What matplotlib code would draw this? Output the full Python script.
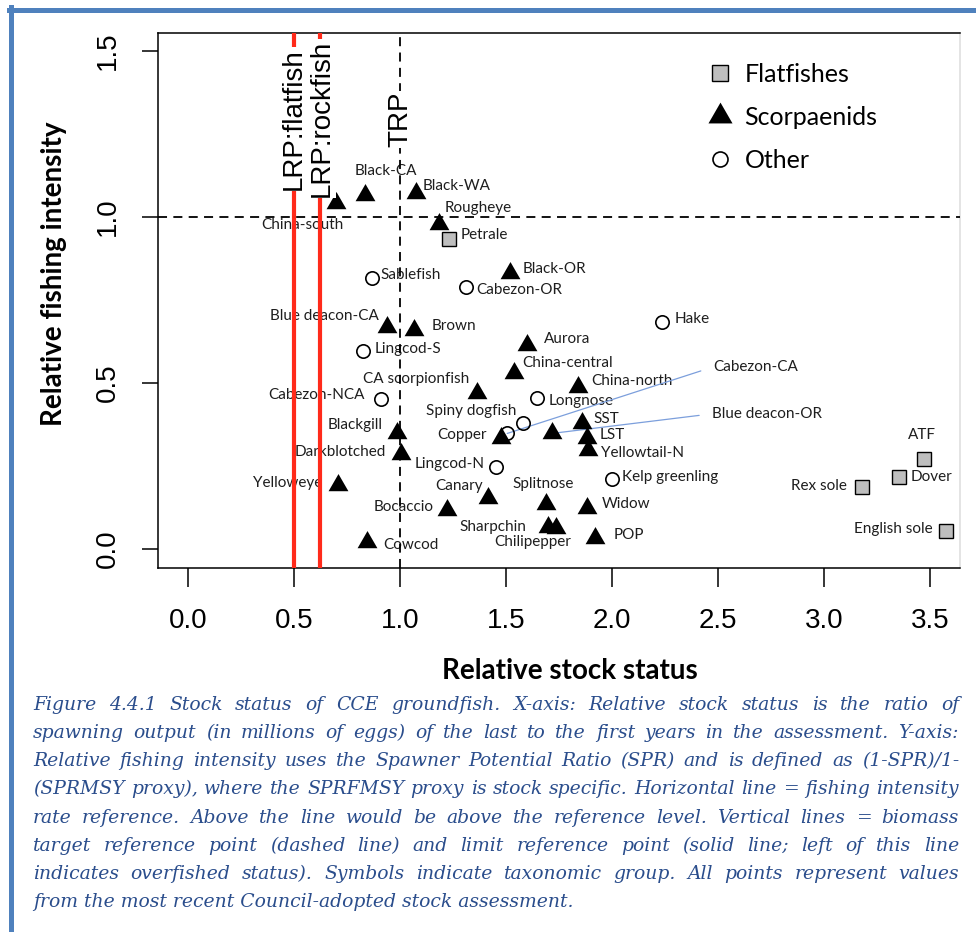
import matplotlib.pyplot as plt
import numpy as np
from matplotlib.lines import Line2D

plt.rcParams['font.family'] = 'Liberation Sans'

# relative stock status (x) and relative fishing intensity (y) by taxonomic group
flat_names = ['Petrale', 'ATF', 'Dover', 'Rex sole', 'English sole']
flat_x = [1.233, 3.473, 3.355, 3.181, 3.574]
flat_y = [0.933, 0.271, 0.218, 0.186, 0.054]

scorp_names = ['China-south', 'Black-CA', 'Black-WA', 'Rougheye', 'Black-OR',
               'Blue deacon-CA', 'Brown', 'Aurora', 'China-central', 'China-north',
               'CA scorpionfish', 'Copper', 'Blue deacon-OR', 'SST', 'LST',
               'Yellowtail-N', 'Blackgill', 'Darkblotched', 'Yelloweye', 'Canary',
               'Bocaccio', 'Splitnose', 'Widow', 'Sharpchin', 'Chilipepper',
               'Cowcod', 'POP']
scorp_x = [0.700, 0.835, 1.074, 1.186, 1.519, 0.937, 1.067, 1.598, 1.539, 1.841,
           1.362, 1.475, 1.716, 1.857, 1.881, 1.888, 0.984, 1.005, 0.709, 1.414,
           1.220, 1.687, 1.881, 1.697, 1.736, 0.846, 1.920]
scorp_y = [1.042, 1.066, 1.071, 0.979, 0.830, 0.670, 0.660, 0.614, 0.531, 0.487,
           0.469, 0.335, 0.348, 0.380, 0.333, 0.298, 0.350, 0.286, 0.193, 0.153,
           0.117, 0.136, 0.123, 0.067, 0.062, 0.022, 0.032]

other_names = ['Sablefish', 'Cabezon-OR', 'Lingcod-S', 'Hake', 'Cabezon-NCA',
               'Longnose', 'Spiny dogfish', 'Cabezon-CA', 'Lingcod-N', 'Kelp greenling']
other_x = [0.866, 1.311, 0.824, 2.234, 0.909, 1.648, 1.582, 1.506, 1.453, 1.999]
other_y = [0.817, 0.788, 0.597, 0.685, 0.452, 0.456, 0.380, 0.348, 0.248, 0.211]

# reference points
lrp_flat = 0.5
lrp_rock = 0.625
trp = 1.0
f_ref = 1.0

xticks = [0.0, 0.5, 1.0, 1.5, 2.0, 2.5, 3.0, 3.5]
xtick_labels = ['0.0', '0.5', '1.0', '1.5', '2.0', '2.5', '3.0', '3.5']
yticks = [0.0, 0.5, 1.0, 1.5]
ytick_labels = ['0.0', '0.5', '1.0', '1.5']

# label placement: (dx px, dy px down, alignment)
label_pos = {
    'Black-CA': (21, -24, 'center'), 'Black-WA': (7, -7, 'left'),
    'Rougheye': (5, -16, 'left'), 'Petrale': (11, -4, 'left'),
    'China-south': (-34, 22, 'center'), 'Sablefish': (9, -3, 'left'),
    'Cabezon-OR': (10, 3, 'left'), 'Black-OR': (13, -4, 'left'),
    'Blue deacon-CA': (-8, -11, 'right'), 'Brown': (17, -4, 'left'),
    'Lingcod-S': (12, -2, 'left'), 'Aurora': (17, -6, 'left'),
    'China-central': (8, -10, 'left'), 'Hake': (13, -3, 'left'),
    'China-north': (13, -6, 'left'), 'Longnose': (11, 3, 'left'),
    'SST': (12, -4, 'left'), 'LST': (13, -3, 'left'),
    'Yellowtail-N': (13, 3, 'left'), 'Kelp greenling': (10, -2, 'left'),
    'Splitnose': (-2, -20, 'center'), 'Widow': (15, -4, 'left'),
    'POP': (19, -3, 'left'), 'Chilipepper': (-23, 14, 'center'),
    'Sharpchin': (-21, 0, 'right'), 'ATF': (-2, -24, 'center'),
    'Dover': (11, 0, 'left'), 'Rex sole': (-15, -1, 'right'),
    'English sole': (-13, -2, 'right'), 'Cabezon-NCA': (-16, -4, 'right'),
    'CA scorpionfish': (-7, -14, 'right'), 'Spiny dogfish': (-7, -12, 'right'),
    'Copper': (-14, -3, 'right'), 'Blackgill': (-14, -8, 'right'),
    'Darkblotched': (-15, -2, 'right'), 'Lingcod-N': (-11, -3, 'right'),
    'Yelloweye': (-16, -2, 'right'), 'Canary': (-5, -12, 'right'),
    'Bocaccio': (-13, -3, 'right'), 'Cowcod': (16, 3, 'left'),
}
# labels moved off to the right with leader lines
leader_pos = {'Cabezon-CA': (2.476, 0.548), 'Blue deacon-OR': (2.470, 0.407)}

caption_lines = [
    'Figure 4.4.1 Stock status of CCE groundfish. X-axis: Relative stock status is the ratio of',
    'spawning output (in millions of eggs) of the last to the first years in the assessment. Y-axis:',
    'Relative fishing intensity uses the Spawner Potential Ratio (SPR) and is defined as (1-SPR)/1-',
    '(SPRMSY proxy), where the SPRFMSY proxy is stock specific. Horizontal line = fishing intensity',
    'rate reference. Above the line would be above the reference level. Vertical lines = biomass',
    'target reference point (dashed line) and limit reference point (solid line; left of this line',
    'indicates overfished status). Symbols indicate taxonomic group. All points represent values',
    'from the most recent Council-adopted stock assessment.',
]

W, H = 976, 932
fig = plt.figure(figsize=(W / 100, H / 100), dpi=100)
ax = fig.add_axes([158 / W, 1 - 568 / H, 802 / W, 535 / H])
ax.set_xlim(-0.1415, 3.642)
ax.set_ylim(-0.0572, 1.554)

tri = [(-1, -0.577), (1, -0.577), (0, 1.155)]

ax.plot(flat_x, flat_y, ls='none', marker='s', ms=9.4, mfc='#bebebe', mec='black', mew=1.0, zorder=4)
ax.plot(scorp_x, scorp_y, ls='none', marker=tri, ms=16.5, mfc='black', mec='black', mew=0, zorder=4)
ax.plot(other_x, other_y, ls='none', marker='o', ms=9.6, mfc='none', mec='black', mew=1.2, zorder=4)

lab_font = dict(family='Lato', fontsize=11, color='#1e1e1e', va='center', zorder=3)
names = flat_names + scorp_names + other_names
xs = flat_x + scorp_x + other_x
ys = flat_y + scorp_y + other_y
for n, x, y in zip(names, xs, ys):
    if n in label_pos:
        dx, dy, ha = label_pos[n]
        ax.annotate(n, (x, y), xytext=(dx * 0.72, -dy * 0.72), textcoords='offset points',
                    ha=ha, **lab_font)
    elif n in leader_pos:
        ax.annotate(n, (x, y), xytext=leader_pos[n], textcoords='data', ha='left',
                    arrowprops=dict(arrowstyle='-', color='#7c9fdc', lw=0.9,
                                    relpos=(0, 0.5), shrinkA=7, shrinkB=0),
                    **lab_font)

# reference lines
dash = (0, (5, 3.5))
ax.axhline(f_ref, color='black', lw=1.3, ls=dash, zorder=5)
ax.axvline(trp, color='black', lw=1.3, ls=dash, zorder=5)
ax.axvline(lrp_flat, color='#ff2a1a', lw=3, zorder=6)
ax.axvline(lrp_rock, color='#ff2a1a', lw=3, zorder=6)

ref_font = dict(family='Liberation Sans', fontsize=20, rotation=90, ha='center', va='bottom',
                zorder=7, bbox=dict(facecolor='white', edgecolor='none', pad=0.5))
ax.text(lrp_flat, 1.081, 'LRP:flatfish', **ref_font)
ax.text(lrp_rock + 0.008, 1.06, 'LRP:rockfish', **ref_font)
ax.text(trp, 1.211, 'TRP', **ref_font)

# legend
handles = [
    Line2D([], [], ls='none', marker='s', ms=11.5, mfc='#bebebe', mec='black', mew=1.0),
    Line2D([], [], ls='none', marker=tri, ms=20, mfc='black', mew=0),
    Line2D([], [], ls='none', marker='o', ms=10.8, mfc='none', mec='black', mew=1.2),
]
leg = ax.legend(handles, ['Flatfishes', 'Scorpaenids', 'Other'], loc='upper left',
                bbox_to_anchor=(0.669, 0.968), frameon=False, borderpad=0,
                handlelength=1.0, handletextpad=0.5, labelspacing=0.8,
                prop=dict(family='Lato', size=18))

ax.set_xticks(xticks, xtick_labels)
ax.set_yticks(yticks)
ax.set_yticklabels(ytick_labels, rotation=90, va='center')
ax.tick_params(axis='x', direction='out', length=13.7, width=1.1, pad=15, labelsize=20)
ax.tick_params(axis='y', direction='out', length=11.5, width=1.1, pad=15, labelsize=20)
for s in ax.spines.values():
    s.set_linewidth(1.1)
ax.spines['right'].set_color('#dcdcdc')

ax.set_xlabel('Relative stock status', family='Lato', fontsize=20, fontweight='bold')
ax.xaxis.set_label_coords(0.514, -0.168)
ax.set_ylabel('Relative fishing intensity', family='Lato', fontsize=20, fontweight='bold')
ax.yaxis.set_label_coords(-0.113, 0.55)

# page border
border = '#4f81bd'
fig.add_artist(Line2D([10.5 / W, 10.5 / W], [0, 1 - 7 / H], color=border, lw=3.6,
                      transform=fig.transFigure))
fig.add_artist(Line2D([8.7 / W, 1], [1 - 9.5 / H, 1 - 9.5 / H], color=border, lw=3.6,
                      transform=fig.transFigure))

# justified caption
renderer = fig.canvas.get_renderer()
cap_font = dict(family='DejaVu Serif', style='italic', color='#2a4d8c', va='baseline')
cap_left, cap_right = 33, 959
size = 13.5
probe = [fig.text(0, 0, ln, fontsize=size, **cap_font) for ln in caption_lines]
widest = max(t.get_window_extent(renderer).width for t in probe)
for t in probe:
    t.remove()
if widest > (cap_right - cap_left) * 0.995:
    size *= (cap_right - cap_left) * 0.995 / widest
for i, ln in enumerate(caption_lines):
    y = 1 - (710 + 28.15 * i) / H
    if i == len(caption_lines) - 1:
        fig.text(cap_left / W, y, ln, fontsize=size, **cap_font)
        continue
    words = ln.split(' ')
    texts = [fig.text(0, y, w, fontsize=size, **cap_font) for w in words]
    widths = [t.get_window_extent(renderer).width for t in texts]
    gap = (cap_right - cap_left - sum(widths)) / (len(words) - 1)
    x = cap_left
    for t, w in zip(texts, widths):
        t.set_x(x / W)
        x += w + gap

fig.savefig('out.png', dpi=100)
